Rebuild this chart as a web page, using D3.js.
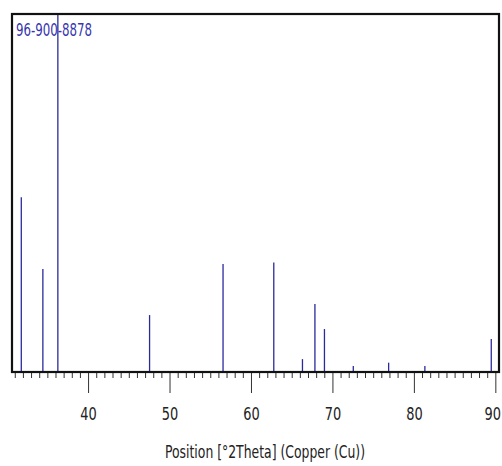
<!DOCTYPE html>
<html>
<head>
<meta charset="utf-8">
<script src="https://cdn.jsdelivr.net/npm/d3@7"></script>
<style>
  body { margin: 0; background: #fff; }
  text { font-family: "DejaVu Sans Condensed", "Liberation Sans Narrow", sans-serif; }
</style>
</head>
<body>
<svg id="chart" width="502" height="466"></svg>
<script>
// reference pattern 96-900-8878, peak positions (°2Theta) and relative intensity (%)
const positions   = [31.80, 34.45, 36.29, 47.55, 56.57, 62.80, 66.32, 67.85, 69.02, 72.56, 76.90, 81.35, 89.50];
const intensities = [48.8, 28.8, 100, 15.9, 30.2, 30.6, 3.6, 19.0, 12.0, 1.7, 2.6, 1.7, 9.2];
const majorTicks  = [40, 50, 60, 70, 80, 90];
const refCode     = "96-900-8878";
const xTitle      = "Position [°2Theta] (Copper (Cu))";

const plot = {left: 12, right: 499, top: 14, bottom: 372};

let x = d3.scaleLinear().domain([30.66, 90.45]).range([plot.left, plot.right]);
let y = d3.scaleLinear().domain([0, 100]).range([plot.bottom, plot.top]);

const svg = d3.select("#chart");

const peaks = positions.map((p, i) => ({pos: p, val: intensities[i]}));

// sticks
svg.append("g")
  .selectAll("line")
  .data(peaks)
  .enter().append("line")
    .attr("x1", d => x(d.pos))
    .attr("x2", d => x(d.pos))
    .attr("y1", y(0))
    .attr("y2", d => y(d.val))
    .style("stroke", "#2a2a9c")
    .style("stroke-width", 1.3);

// minor ticks every degree
let minor = d3.range(31, 91).filter(v => v % 10 !== 0);
svg.append("g")
  .attr("transform", "translate(0," + plot.bottom + ")")
  .call(d3.axisBottom(x).tickValues(minor).tickSize(6).tickFormat(""))
  .call(g => g.select(".domain").remove())
  .call(g => g.selectAll(".tick line").style("stroke", "#333"));

// major ticks
svg.append("g")
  .attr("transform", "translate(0," + plot.bottom + ")")
  .call(d3.axisBottom(x).tickValues(majorTicks).tickSize(21).tickPadding(14).tickFormat(d3.format("d")))
  .call(g => g.select(".domain").remove())
  .call(g => g.selectAll(".tick line").style("stroke", "#333"))
  .call(g => g.selectAll(".tick text")
    .attr("transform", "scale(0.8,1)")
    .attr("x", d => d === 90 ? -4 : 0)
    .style("font-size", "18px")
    .style("fill", "#222"));

// frame
svg.append("rect")
  .attr("x", plot.left)
  .attr("y", plot.top)
  .attr("width", plot.right - plot.left)
  .attr("height", plot.bottom - plot.top)
  .style("fill", "none")
  .style("stroke", "#111")
  .style("stroke-width", 2.2);

svg.append("text")
  .attr("x", plot.left + 4)
  .attr("y", 36)
  .attr("textLength", 76)
  .attr("lengthAdjust", "spacingAndGlyphs")
  .style("font-size", "18px")
  .style("fill", "#3535b0")
  .text(refCode);

svg.append("text")
  .attr("x", 265)
  .attr("y", 458)
  .attr("text-anchor", "middle")
  .attr("textLength", 200)
  .attr("lengthAdjust", "spacingAndGlyphs")
  .style("font-size", "18px")
  .style("fill", "#222")
  .text(xTitle);
</script>
</body>
</html>
